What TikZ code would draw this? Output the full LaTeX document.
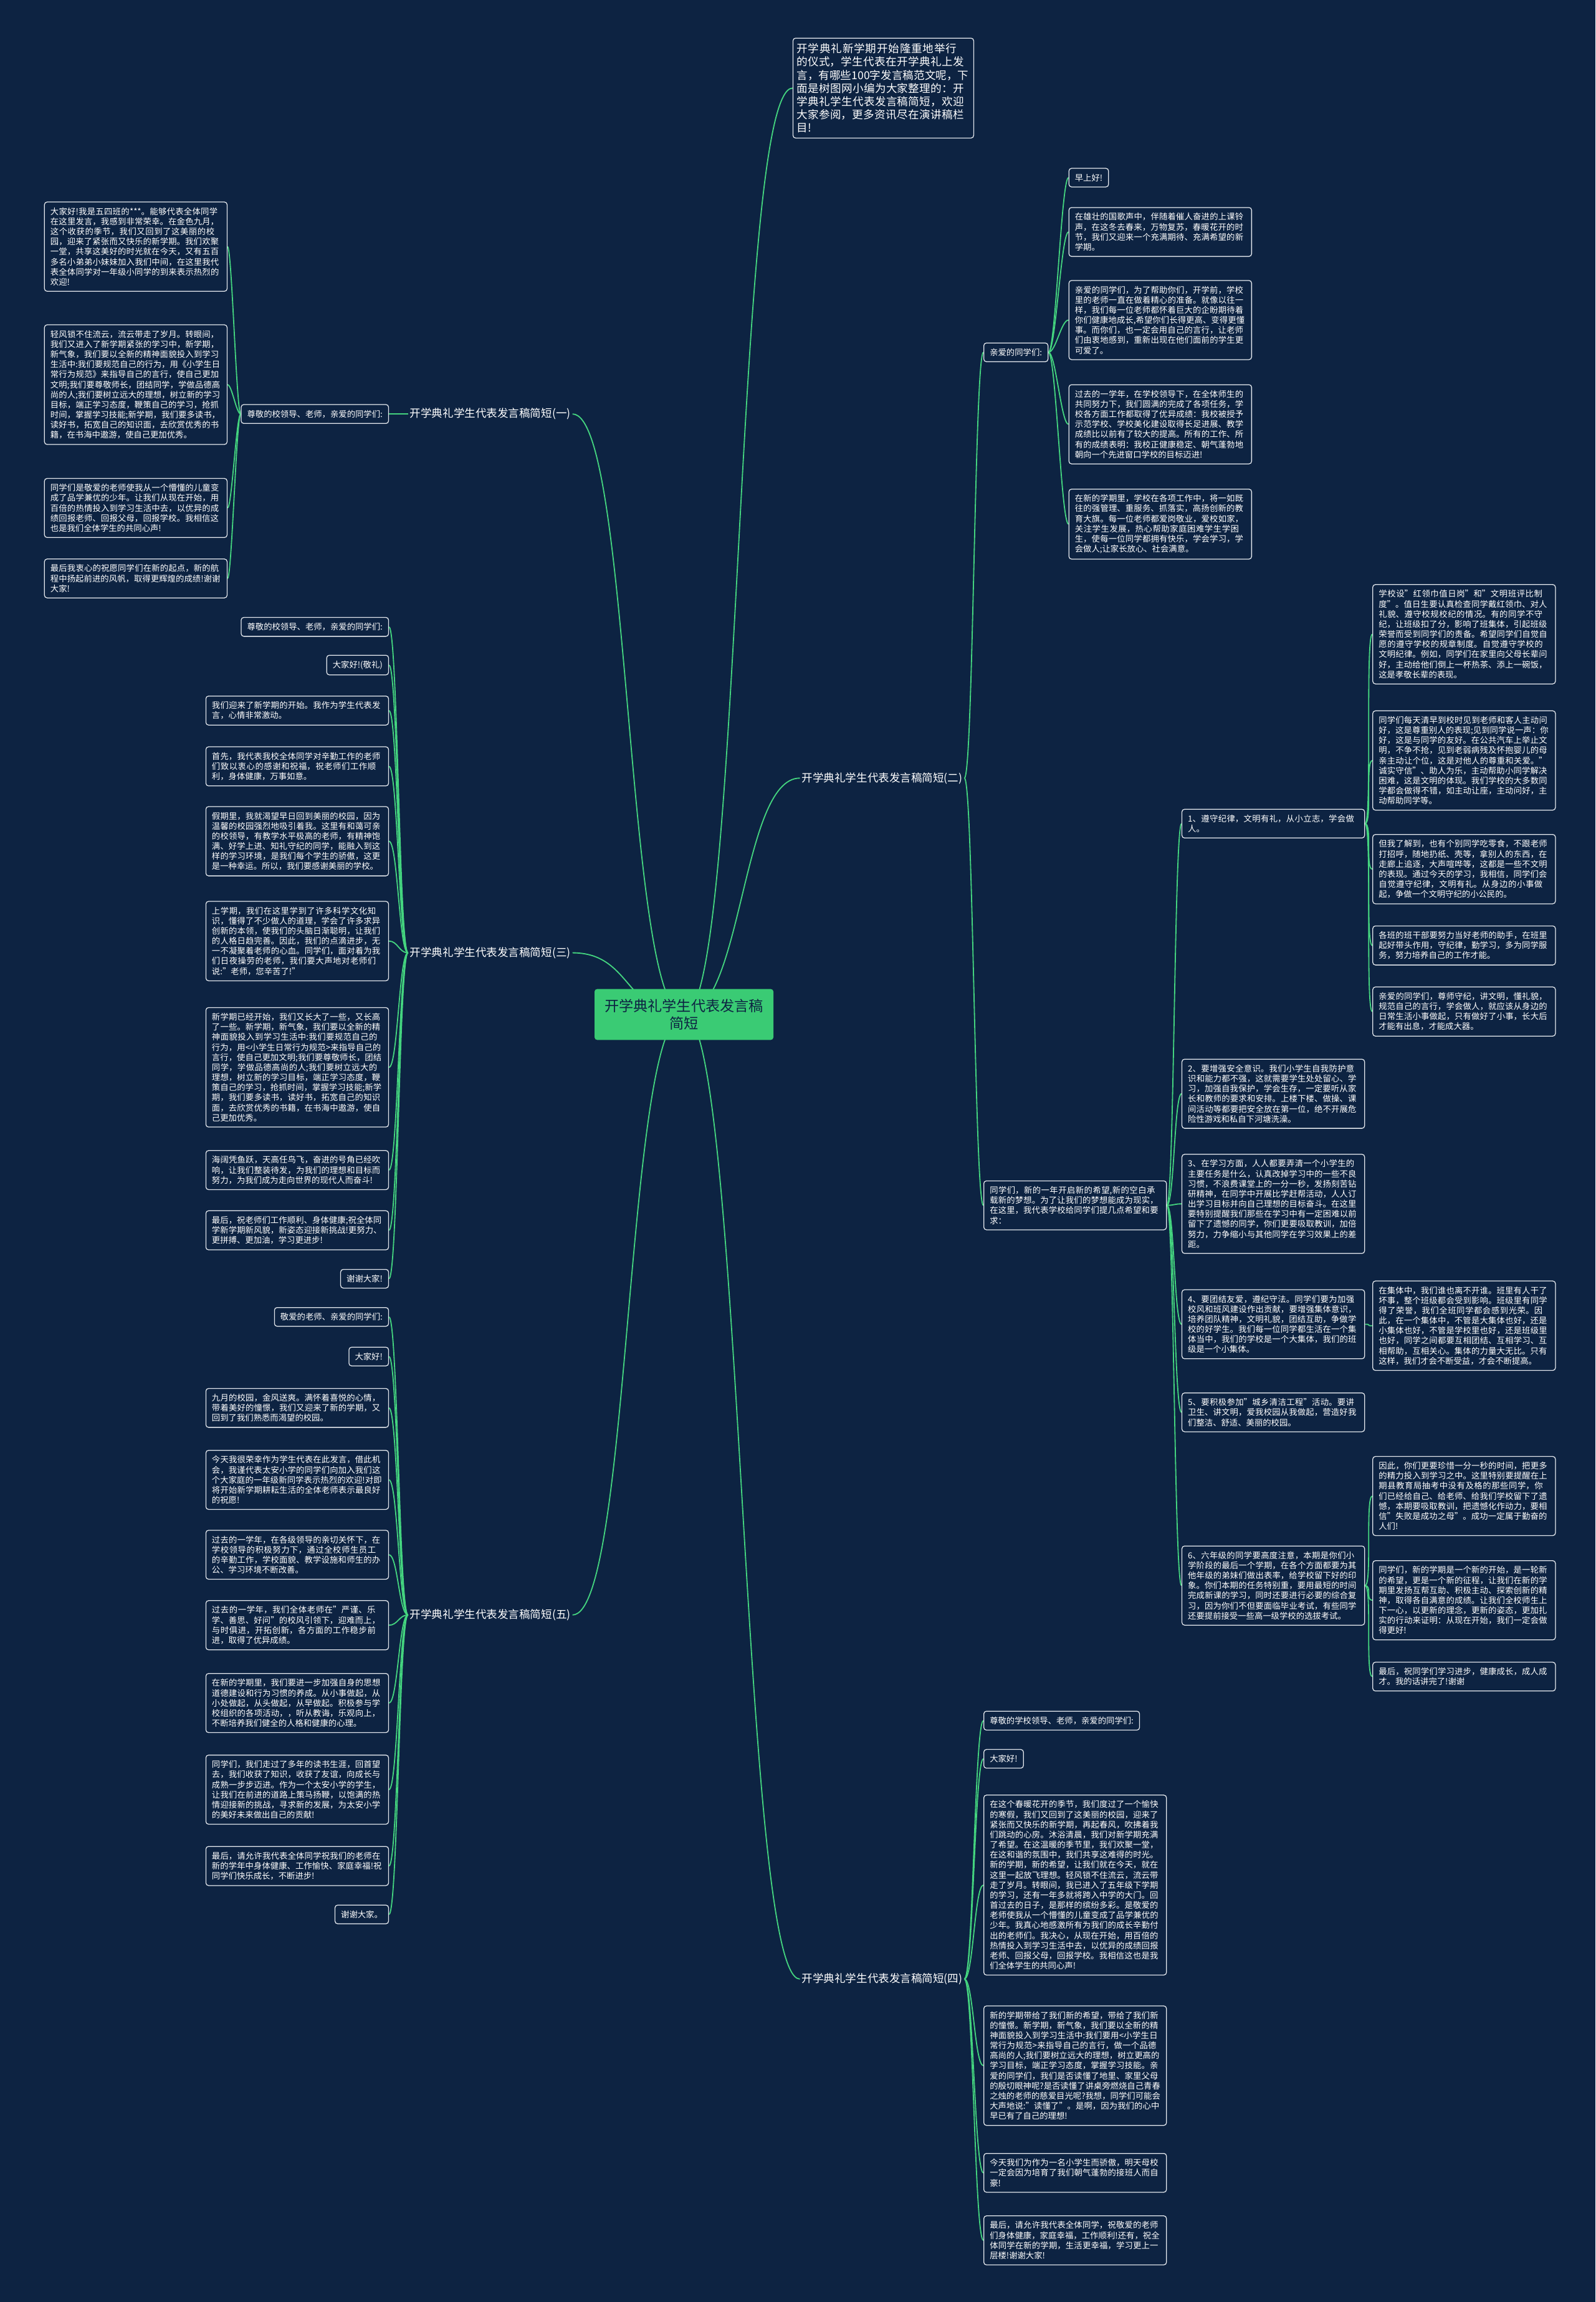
\documentclass[tikz,border=0pt]{standalone}
\usepackage{fontspec}
\setmainfont{Noto Sans CJK SC}
\XeTeXlinebreaklocale "zh"
\XeTeXlinebreakskip = 0pt plus 1pt
\usetikzlibrary{backgrounds}
\definecolor{NightBlue}{HTML}{0D2342}
\definecolor{EdgeWhite}{HTML}{E4E8EE}
\definecolor{BranchGreen}{HTML}{44D47F}
\definecolor{RootGreen}{HTML}{3ACB74}
\tikzset{
  notebox/.style={draw=EdgeWhite, line width=0.9pt, rounded corners=3pt, fill=NightBlue, text=white, align=left, text width=6.85cm, inner xsep=0.24cm, inner ysep=0.22cm, font=\fontsize{9.5}{11.5}\selectfont},
  tagbox/.style={draw=EdgeWhite, line width=0.9pt, rounded corners=3pt, fill=NightBlue, text=white, inner xsep=0.24cm, inner ysep=0.22cm, font=\fontsize{9.5}{11.5}\selectfont},
  introbox/.style={notebox, text width=6.95cm, inner xsep=0.15cm, font=\fontsize{12.5}{15}\selectfont},
  branch/.style={text=white, inner sep=2pt, font=\fontsize{12.5}{15}\selectfont},
  rootbox/.style={fill=RootGreen, rounded corners=3pt, text=NightBlue, align=center, inner xsep=0.4cm, inner ysep=0.4cm, font=\fontsize{16.5}{20}\selectfont},
  rlink/.style={draw=BranchGreen, line width=1.3pt, to path={.. controls +(#1,0) and +(-#1,0) .. (\tikztotarget)}},
  llink/.style={draw=BranchGreen, line width=1.3pt, to path={.. controls +(-#1,0) and +(#1,0) .. (\tikztotarget)}}
}

\begin{document}
\begin{tikzpicture}[x=0.0589cm, y=-0.0589cm]
\begin{scope}[on background layer]
\fill[NightBlue] (0,0) rectangle (1087,1568);
\end{scope}

\node[rootbox] (root) at (466,691) {开学典礼学生代表发言稿\\简短};
\node[introbox, anchor=west] (intro) at (540,60) {开学典礼新学期开始隆重地举行的仪式，学生代表在开学典礼上发言，有哪些100字发言稿范文呢，下面是树图网小编为大家整理的：开学典礼学生代表发言稿简短，欢迎大家参阅，更多资讯尽在演讲稿栏目!};

\node[branch] (b1) at (334,282) {开学典礼学生代表发言稿简短(一)};
\node[branch] (b2) at (601,530) {开学典礼学生代表发言稿简短(二)};
\node[branch] (b3) at (334,649) {开学典礼学生代表发言稿简短(三)};
\node[branch] (b4) at (601,1348) {开学典礼学生代表发言稿简短(四)};
\node[branch] (b5) at (334,1100) {开学典礼学生代表发言稿简短(五)};

\node[tagbox, anchor=east] (a0) at (265,282) {尊敬的校领导、老师，亲爱的同学们:};
\node[notebox, anchor=east] (a1) at (155,168) {大家好!我是五四班的***。能够代表全体同学在这里发言，我感到非常荣幸。在金色九月，这个收获的季节，我们又回到了这美丽的校园，迎来了紧张而又快乐的新学期。我们欢聚一堂，共享这美好的时光就在今天，又有五百多名小弟弟小妹妹加入我们中间，在这里我代表全体同学对一年级小同学的到来表示热烈的欢迎!};
\node[notebox, anchor=east] (a2) at (155,262) {轻风锁不住流云，流云带走了岁月。转眼间，我们又进入了新学期紧张的学习中，新学期，新气象，我们要以全新的精神面貌投入到学习生活中:我们要规范自己的行为，用《小学生日常行为规范》来指导自己的言行，使自己更加文明;我们要尊敬师长，团结同学，学做品德高尚的人;我们要树立远大的理想，树立新的学习目标，端正学习态度，鞭策自己的学习，抢抓时间，掌握学习技能;新学期，我们要多读书，读好书，拓宽自己的知识面，去欣赏优秀的书籍，在书海中遨游，使自己更加优秀。};
\node[notebox, anchor=east] (a3) at (155,346) {同学们是敬爱的老师使我从一个懵懂的儿童变成了品学兼优的少年。让我们从现在开始，用百倍的热情投入到学习生活中去，以优异的成绩回报老师、回报父母，回报学校。我相信这也是我们全体学生的共同心声!};
\node[notebox, anchor=east] (a4) at (155,394) {最后我衷心的祝愿同学们在新的起点，新的航程中扬起前进的风帆，取得更辉煌的成绩!谢谢大家!};

\node[tagbox, anchor=west] (c0) at (670,240) {亲爱的同学们:};
\node[tagbox, anchor=west] (c1) at (728,121) {早上好!};
\node[notebox, anchor=west] (c2) at (728,158) {在雄壮的国歌声中，伴随着催人奋进的上课铃声，在这冬去春来，万物复苏，春暖花开的时节，我们又迎来一个充满期待、充满希望的新学期。};
\node[notebox, anchor=west] (c3) at (728,218) {亲爱的同学们，为了帮助你们，开学前，学校里的老师一直在做着精心的准备。就像以往一样，我们每一位老师都怀着巨大的企盼期待着你们健康地成长,希望你们长得更高、变得更懂事。而你们，也一定会用自己的言行，让老师们由衷地感到，重新出现在他们面前的学生更可爱了。};
\node[notebox, anchor=west] (c4) at (728,289) {过去的一学年，在学校领导下，在全体师生的共同努力下，我们圆满的完成了各项任务，学校各方面工作都取得了优异成绩：我校被授予示范学校、学校美化建设取得长足进展、教学成绩比以前有了较大的提高。所有的工作、所有的成绩表明：我校正健康稳定、朝气蓬勃地朝向一个先进窗口学校的目标迈进!};
\node[notebox, anchor=west] (c5) at (728,357) {在新的学期里，学校在各项工作中，将一如既往的强管理、重服务、抓落实，高扬创新的教育大旗。每一位老师都爱岗敬业，爱校如家，关注学生发展，热心帮助家庭困难学生学困生，使每一位同学都拥有快乐，学会学习，学会做人;让家长放心、社会满意。};

\node[notebox, anchor=west] (d0) at (670,821) {同学们，新的一年开启新的希望,新的空白承载新的梦想。为了让我们的梦想能成为现实，在这里，我代表学校给同学们提几点希望和要求：};
\node[notebox, anchor=west] (d1) at (805,561) {1、遵守纪律，文明有礼，从小立志，学会做人。};
\node[notebox, anchor=west] (d2) at (805,745) {2、要增强安全意识。我们小学生自我防护意识和能力都不强，这就需要学生处处留心、学习，加强自我保护，学会生存，一定要听从家长和教师的要求和安排。上楼下楼、做操、课间活动等都要把安全放在第一位，绝不开展危险性游戏和私自下河塘洗澡。};
\node[notebox, anchor=west] (d3) at (805,820) {3、在学习方面，人人都要弄清一个小学生的主要任务是什么，认真改掉学习中的一些不良习惯，不浪费课堂上的一分一秒，发扬刻苦钻研精神，在同学中开展比学赶帮活动，人人订出学习目标并向自己理想的目标奋斗。在这里要特别提醒我们那些在学习中有一定困难以前留下了遗憾的同学，你们更要吸取教训，加倍努力，力争缩小与其他同学在学习效果上的差距。};
\node[notebox, anchor=west] (d4) at (805,902) {4、要团结友爱，遵纪守法。同学们要为加强校风和班风建设作出贡献，要增强集体意识，培养团队精神，文明礼貌，团结互助，争做学校的好学生。我们每一位同学都生活在一个集体当中，我们的学校是一个大集体，我们的班级是一个小集体。};
\node[notebox, anchor=west] (d5) at (805,962) {5、要积极参加"城乡清洁工程"活动。要讲卫生、讲文明，爱我校园从我做起，营造好我们整洁、舒适、美丽的校园。};
\node[notebox, anchor=west] (d6) at (805,1080) {6、六年级的同学要高度注意，本期是你们小学阶段的最后一个学期，在各个方面都要为其他年级的弟妹们做出表率，给学校留下好的印象。你们本期的任务特别重，要用最短的时间完成新课的学习，同时还要进行必要的综合复习，因为你们不但要面临毕业考试，有些同学还要提前接受一些高一级学校的选拔考试。};

\node[notebox, anchor=west] (e1) at (935,432) {学校设"红领巾值日岗"和"文明班评比制度"。值日生要认真检查同学戴红领巾、对人礼貌、遵守校规校纪的情况。有的同学不守纪，让班级扣了分，影响了班集体，引起班级荣誉而受到同学们的责备。希望同学们自觉自愿的遵守学校的规章制度。自觉遵守学校的文明纪律。例如，同学们在家里向父母长辈问好，主动给他们倒上一杯热茶、添上一碗饭，这是孝敬长辈的表现。};
\node[notebox, anchor=west] (e2) at (935,518) {同学们每天清早到校时见到老师和客人主动问好，这是尊重别人的表现;见到同学说一声：你好，这是与同学的友好。在公共汽车上举止文明，不争不抢，见到老弱病残及怀抱婴儿的母亲主动让个位，这是对他人的尊重和关爱。"诚实守信"、助人为乐，主动帮助小同学解决困难，这是文明的体现。我们学校的大多数同学都会做得不错，如主动让座，主动问好，主动帮助同学等。};
\node[notebox, anchor=west] (e3) at (935,592) {但我了解到，也有个别同学吃零食，不跟老师打招呼，随地扔纸、壳等，拿别人的东西，在走廊上追逐，大声喧哗等，这都是一些不文明的表现。通过今天的学习，我相信，同学们会自觉遵守纪律，文明有礼。从身边的小事做起，争做一个文明守纪的小公民的。};
\node[notebox, anchor=west] (e4) at (935,644) {各班的班干部要努力当好老师的助手，在班里起好带头作用，守纪律，勤学习，多为同学服务，努力培养自己的工作才能。};
\node[notebox, anchor=west] (e5) at (935,689) {亲爱的同学们，尊师守纪，讲文明，懂礼貌，规范自己的言行，学会做人，就应该从身边的日常生活小事做起，只有做好了小事，长大后才能有出息，才能成大器。};
\node[notebox, anchor=west] (e6) at (935,903) {在集体中，我们谁也离不开谁。班里有人干了坏事，整个班级都会受到影响。班级里有同学得了荣誉，我们全班同学都会感到光荣。因此，在一个集体中，不管是大集体也好，还是小集体也好，不管是学校里也好，还是班级里也好，同学之间都要互相团结、互相学习、互相帮助，互相关心。集体的力量大无比。只有这样，我们才会不断受益，才会不断提高。};
\node[notebox, anchor=west] (e7) at (935,1019) {因此，你们更要珍惜一分一秒的时间，把更多的精力投入到学习之中。这里特别要提醒在上期县教育局抽考中没有及格的那些同学，你们已经给自己、给老师、给我们学校留下了遗憾，本期要吸取教训，把遗憾化作动力，要相信"失败是成功之母"。成功一定属于勤奋的人们!};
\node[notebox, anchor=west] (e8) at (935,1090) {同学们，新的学期是一个新的开始，是一轮新的希望，更是一个新的征程，让我们在新的学期里发扬互帮互助、积极主动、探索创新的精神，取得各自满意的成绩。让我们全校师生上下一心，以更新的理念，更新的姿态，更加扎实的行动来证明：从现在开始，我们一定会做得更好!};
\node[notebox, anchor=west] (e9) at (935,1142) {最后，祝同学们学习进步，健康成长，成人成才。我的话讲完了!谢谢};

\node[tagbox, anchor=east] (f1) at (265,427) {尊敬的校领导、老师，亲爱的同学们:};
\node[tagbox, anchor=east] (f2) at (265,453) {大家好!(敬礼)};
\node[notebox, anchor=east] (f3) at (265,484) {我们迎来了新学期的开始。我作为学生代表发言，心情非常激动。};
\node[notebox, anchor=east] (f4) at (265,522) {首先，我代表我校全体同学对辛勤工作的老师们致以衷心的感谢和祝福，祝老师们工作顺利，身体健康，万事如意。};
\node[notebox, anchor=east] (f5) at (265,573) {假期里，我就渴望早日回到美丽的校园，因为温馨的校园强烈地吸引着我。这里有和蔼可亲的校领导，有教学水平极高的老师，有精神饱满、好学上进、知礼守纪的同学，能融入到这样的学习环境，是我们每个学生的骄傲，这更是一种幸运。所以，我们要感谢美丽的学校。};
\node[notebox, anchor=east] (f6) at (265,641) {上学期，我们在这里学到了许多科学文化知识，懂得了不少做人的道理，学会了许多求异创新的本领，使我们的头脑日渐聪明，让我们的人格日趋完善。因此，我们的点滴进步，无一不凝聚着老师的心血。同学们，面对着为我们日夜操劳的老师，我们要大声地对老师们说:"老师，您辛苦了!"};
\node[notebox, anchor=east] (f7) at (265,727) {新学期已经开始，我们又长大了一些，又长高了一些。新学期，新气象，我们要以全新的精神面貌投入到学习生活中:我们要规范自己的行为，用<小学生日常行为规范>来指导自己的言行，使自己更加文明;我们要尊敬师长，团结同学，学做品德高尚的人;我们要树立远大的理想，树立新的学习目标，端正学习态度，鞭策自己的学习，抢抓时间，掌握学习技能;新学期，我们要多读书，读好书，拓宽自己的知识面，去欣赏优秀的书籍，在书海中遨游，使自己更加优秀。};
\node[notebox, anchor=east] (f8) at (265,797) {海阔凭鱼跃，天高任鸟飞，奋进的号角已经吹响，让我们整装待发，为我们的理想和目标而努力，为我们成为走向世界的现代人而奋斗!};
\node[notebox, anchor=east] (f9) at (265,838) {最后，祝老师们工作顺利、身体健康;祝全体同学新学期新风貌，新姿态迎接新挑战!更努力、更拼搏、更加油，学习更进步!};
\node[tagbox, anchor=east] (f10) at (265,871) {谢谢大家!};

\node[tagbox, anchor=west] (g1) at (670,1172) {尊敬的学校领导、老师，亲爱的同学们:};
\node[tagbox, anchor=west] (g2) at (670,1198) {大家好!};
\node[notebox, anchor=west] (g3) at (670,1284) {在这个春暖花开的季节，我们度过了一个愉快的寒假，我们又回到了这美丽的校园，迎来了紧张而又快乐的新学期，再起春风，吹拂着我们跳动的心房。沐浴清晨，我们对新学期充满了希望。在这温暖的季节里，我们欢聚一堂，在这和谐的氛围中，我们共享这难得的时光。新的学期，新的希望，让我们就在今天，就在这里一起放飞理想。轻风锁不住流云，流云带走了岁月。转眼间，我已进入了五年级下学期的学习，还有一年多就将跨入中学的大门。回首过去的日子，是那样的缤纷多彩。是敬爱的老师使我从一个懵懂的儿童变成了品学兼优的少年。我真心地感激所有为我们的成长辛勤付出的老师们。我决心，从现在开始，用百倍的热情投入到学习生活中去，以优异的成绩回报老师、回报父母，回报学校。我相信这也是我们全体学生的共同心声!};
\node[notebox, anchor=west] (g4) at (670,1407) {新的学期带给了我们新的希望，带给了我们新的憧憬。新学期，新气象，我们要以全新的精神面貌投入到学习生活中:我们要用<小学生日常行为规范>来指导自己的言行，做一个品德高尚的人;我们要树立远大的理想，树立更高的学习目标，端正学习态度，掌握学习技能。亲爱的同学们，我们是否读懂了地里、家里父母的殷切眼神呢?是否读懂了讲桌旁燃烧自己青春之烛的老师的慈爱目光呢?我想，同学们可能会大声地说:"读懂了"。是啊，因为我们的心中早已有了自己的理想!};
\node[notebox, anchor=west] (g5) at (670,1480) {今天我们为作为一名小学生而骄傲，明天母校一定会因为培育了我们朝气蓬勃的接班人而自豪!};
\node[notebox, anchor=west] (g6) at (670,1526) {最后，请允许我代表全体同学，祝敬爱的老师们身体健康，家庭幸福，工作顺利!还有，祝全体同学在新的学期，生活更幸福，学习更上一层楼!谢谢大家!};

\node[tagbox, anchor=east] (h1) at (265,897) {敬爱的老师、亲爱的同学们:};
\node[tagbox, anchor=east] (h2) at (265,924) {大家好!};
\node[notebox, anchor=east] (h3) at (265,959) {九月的校园，金风送爽。满怀着喜悦的心情，带着美好的憧憬，我们又迎来了新的学期，又回到了我们熟悉而渴望的校园。};
\node[notebox, anchor=east] (h4) at (265,1008) {今天我很荣幸作为学生代表在此发言，借此机会，我谨代表太安小学的同学们向加入我们这个大家庭的一年级新同学表示热烈的欢迎!对即将开始新学期耕耘生活的全体老师表示最良好的祝愿!};
\node[notebox, anchor=east] (h5) at (265,1059) {过去的一学年，在各级领导的亲切关怀下，在学校领导的积极努力下，通过全校师生员工的辛勤工作，学校面貌、教学设施和师生的办公、学习环境不断改善。};
\node[notebox, anchor=east] (h6) at (265,1107) {过去的一学年，我们全体老师在"严谨、乐学、善思、好问"的校风引领下，迎难而上，与时俱进，开拓创新，各方面的工作稳步前进，取得了优异成绩。};
\node[notebox, anchor=east] (h7) at (265,1160) {在新的学期里，我们要进一步加强自身的思想道德建设和行为习惯的养成。从小事做起，从小处做起，从头做起，从早做起。积极参与学校组织的各项活动，，听从教诲，乐观向上，不断培养我们健全的人格和健康的心理。};
\node[notebox, anchor=east] (h8) at (265,1219) {同学们，我们走过了多年的读书生涯，回首望去，我们收获了知识，收获了友谊，向成长与成熟一步步迈进。作为一个太安小学的学生，让我们在前进的道路上策马扬鞭，以饱满的热情迎接新的挑战，寻求新的发展，为太安小学的美好未来做出自己的贡献!};
\node[notebox, anchor=east] (h9) at (265,1271) {最后，请允许我代表全体同学祝我们的老师在新的学年中身体健康、工作愉快、家庭幸福!祝同学们快乐成长，不断进步!};
\node[tagbox, anchor=east] (h10) at (265,1304) {谢谢大家。};

\begin{scope}[on background layer]
\draw[rlink=40] (root.center) to (intro.west);
\draw[rlink=40] (root.center) to (b2.west);
\draw[rlink=40] (root.center) to (b4.west);
\draw[llink=40] (root.center) to (b1.east);
\draw[llink=40] (root.center) to (b3.east);
\draw[llink=40] (root.center) to (b5.east);
\draw[llink=6] (b1.west) to (a0.east);
\draw[llink=3] (a0.west) to (a1.east);
\draw[llink=3] (a0.west) to (a2.east);
\draw[llink=3] (a0.west) to (a3.east);
\draw[llink=3] (a0.west) to (a4.east);
\draw[rlink=6] (b2.east) to (c0.west);
\draw[rlink=6] (b2.east) to (d0.west);
\draw[rlink=5] (c0.east) to (c1.west);
\draw[rlink=5] (c0.east) to (c2.west);
\draw[rlink=5] (c0.east) to (c3.west);
\draw[rlink=5] (c0.east) to (c4.west);
\draw[rlink=5] (c0.east) to (c5.west);
\draw[rlink=5] (d0.east) to (d1.west);
\draw[rlink=5] (d0.east) to (d2.west);
\draw[rlink=5] (d0.east) to (d3.west);
\draw[rlink=5] (d0.east) to (d4.west);
\draw[rlink=5] (d0.east) to (d5.west);
\draw[rlink=5] (d0.east) to (d6.west);
\draw[rlink=5] (d1.east) to (e1.west);
\draw[rlink=5] (d1.east) to (e2.west);
\draw[rlink=5] (d1.east) to (e3.west);
\draw[rlink=5] (d1.east) to (e4.west);
\draw[rlink=5] (d1.east) to (e5.west);
\draw[rlink=5] (d4.east) to (e6.west);
\draw[rlink=5] (d6.east) to (e7.west);
\draw[rlink=5] (d6.east) to (e8.west);
\draw[rlink=5] (d6.east) to (e9.west);
\draw[llink=6] (b3.west) to (f1.east);
\draw[llink=6] (b3.west) to (f2.east);
\draw[llink=6] (b3.west) to (f3.east);
\draw[llink=6] (b3.west) to (f4.east);
\draw[llink=6] (b3.west) to (f5.east);
\draw[llink=6] (b3.west) to (f6.east);
\draw[llink=6] (b3.west) to (f7.east);
\draw[llink=6] (b3.west) to (f8.east);
\draw[llink=6] (b3.west) to (f9.east);
\draw[llink=6] (b3.west) to (f10.east);
\draw[rlink=6] (b4.east) to (g1.west);
\draw[rlink=6] (b4.east) to (g2.west);
\draw[rlink=6] (b4.east) to (g3.west);
\draw[rlink=6] (b4.east) to (g4.west);
\draw[rlink=6] (b4.east) to (g5.west);
\draw[rlink=6] (b4.east) to (g6.west);
\draw[llink=6] (b5.west) to (h1.east);
\draw[llink=6] (b5.west) to (h2.east);
\draw[llink=6] (b5.west) to (h3.east);
\draw[llink=6] (b5.west) to (h4.east);
\draw[llink=6] (b5.west) to (h5.east);
\draw[llink=6] (b5.west) to (h6.east);
\draw[llink=6] (b5.west) to (h7.east);
\draw[llink=6] (b5.west) to (h8.east);
\draw[llink=6] (b5.west) to (h9.east);
\draw[llink=6] (b5.west) to (h10.east);
\end{scope}
\end{tikzpicture}
\end{document}
